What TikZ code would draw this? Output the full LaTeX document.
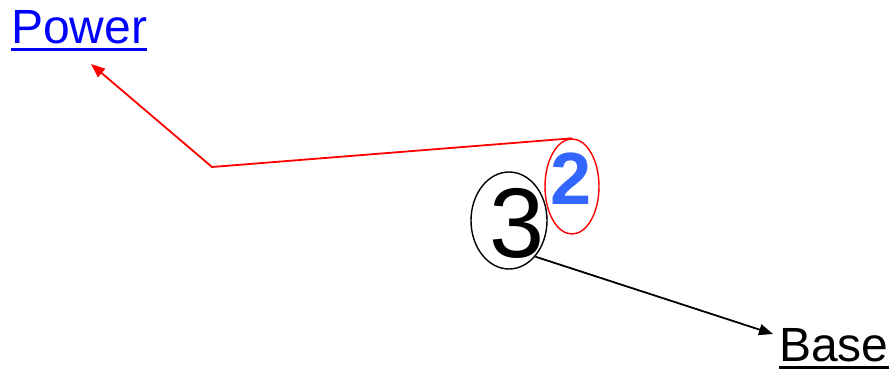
\documentclass[tikz,border=0pt]{standalone}
\usepackage{fontspec}
\setmainfont{Liberation Sans}
\usetikzlibrary{arrows.meta,shapes.geometric}
\definecolor{pblue}{RGB}{0,0,255}
\definecolor{twoblue}{RGB}{51,102,255}
\begin{document}
\begin{tikzpicture}[x=1pt,y=-1pt,
  lbl/.style={inner sep=0pt,anchor=base west,font=\fontsize{48}{48}\selectfont},
  ring/.style={draw,ellipse,inner sep=0pt,line width=1.4pt},
  conn/.style={line width=1.8pt,-{Triangle[length=14pt,width=11pt]}}]
\useasboundingbox (0,0) rectangle (890,371);
% labels
\node[lbl,text=pblue] (power) at (11,44) {Power};
\draw[pblue,line width=3pt] ([yshift=-6pt]power.base west) -- ([yshift=-6pt]power.base east);
\node[lbl,text=black] (base) at (779,361) {Base};
\draw[line width=3pt] ([yshift=-6pt]base.base west) -- ([yshift=-6pt]base.base east);
% digits
\node[inner sep=0pt,text=twoblue,font=\fontsize{74}{74}\selectfont\bfseries] (two) at (571,178.5) {2};
\node[inner sep=0pt,font=\fontsize{99}{99}\selectfont] (three) at (517,223.5) {3};
% rings
\node[ring,red,minimum width=54pt,minimum height=95pt] (e2) at (572,186.5) {};
\node[ring,minimum width=76pt,minimum height=97pt] (e3) at (509,220.5) {};
% connectors
\coordinate (bend) at (212,167);
\coordinate (powtip) at (91,64);
\coordinate (basetip) at (773,334);
\draw[conn,red] (e2.north) -- (bend) -- (powtip);
\draw[conn] (e3.-54) -- (basetip);
\end{tikzpicture}
\end{document}
